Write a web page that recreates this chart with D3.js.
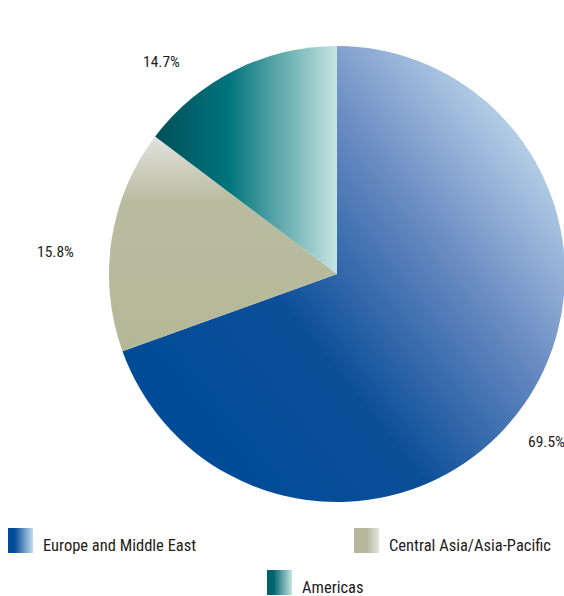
<!DOCTYPE html>
<html>
<head>
<meta charset="utf-8">
<script src="https://cdn.jsdelivr.net/npm/d3@7"></script>
<style>
  body { margin: 0; background: #fff; }
  text { font-family: "Liberation Sans Narrow", "Roboto Condensed", "Liberation Sans", sans-serif; fill: #1e1c1d; }
</style>
</head>
<body>
<div id="chart"></div>
<script>
var regions = ["Europe and Middle East", "Central Asia/Asia-Pacific", "Americas"];
var shares = [69.5, 15.8, 14.7];
var pctLabels = ["69.5%", "15.8%", "14.7%"];

var w = 564, h = 596;
var cx = 337, cy = 274, radius = 228;

var svg = d3.select("#chart").append("svg").attr("width", w).attr("height", h);
var defs = svg.append("defs");

// gradients for slices
var gEu = defs.append("linearGradient").attr("id", "g-eu")
  .attr("x1", "10%").attr("y1", "80%").attr("x2", "95%").attr("y2", "10%");
gEu.append("stop").attr("offset", "0%").attr("stop-color", "#004b97");
gEu.append("stop").attr("offset", "32%").attr("stop-color", "#0c4f99");
gEu.append("stop").attr("offset", "65%").attr("stop-color", "#6a8cc2");
gEu.append("stop").attr("offset", "100%").attr("stop-color", "#cfe5f3");

var gAs = defs.append("linearGradient").attr("id", "g-as")
  .attr("x1", "0%").attr("y1", "0%").attr("x2", "0%").attr("y2", "100%");
gAs.append("stop").attr("offset", "0%").attr("stop-color", "#e2e2de");
gAs.append("stop").attr("offset", "30%").attr("stop-color", "#b9bc9f");
gAs.append("stop").attr("offset", "100%").attr("stop-color", "#b4b898");

var gAm = defs.append("linearGradient").attr("id", "g-am")
  .attr("x1", "0%").attr("y1", "0%").attr("x2", "100%").attr("y2", "0%");
gAm.append("stop").attr("offset", "0%").attr("stop-color", "#004f58");
gAm.append("stop").attr("offset", "40%").attr("stop-color", "#00747c");
gAm.append("stop").attr("offset", "100%").attr("stop-color", "#c6e4e2");

// legend gradients (horizontal)
var lg = [["lg-eu", "#004b97", "#c2daef"], ["lg-as", "#b4b898", "#e4e4e0"], ["lg-am", "#00636b", "#c6e4e2"]];
lg.forEach(function(d){
  var g = defs.append("linearGradient").attr("id", d[0]).attr("x1", "0%").attr("x2", "100%").attr("y1", "0%").attr("y2", "0%");
  g.append("stop").attr("offset", "0%").attr("stop-color", d[1]);
  g.append("stop").attr("offset", d[0] == "lg-as" ? "50%" : "25%").attr("stop-color", d[1]);
  g.append("stop").attr("offset", "100%").attr("stop-color", d[2]);
});

var fills = ["url(#g-eu)", "url(#g-as)", "url(#g-am)"];
var legendFills = ["url(#lg-eu)", "url(#lg-as)", "url(#lg-am)"];

var data = regions.map(function(r, i){ return {region: r, share: shares[i], label: pctLabels[i], i: i}; });

var pie = d3.pie().sort(null).value(function(d){ return d.share; });
var arc = d3.arc().innerRadius(0).outerRadius(radius);

var g = svg.append("g").attr("transform", "translate(" + cx + "," + cy + ")");
g.selectAll("path")
  .data(pie(data))
  .enter()
  .append("path")
  .attr("d", arc)
  .attr("fill", function(d){ return fills[d.data.i]; });

// percentage labels, placed outside the slice
var labelPos = [[528, 447], [37, 257], [143, 67]];
svg.selectAll(".pct")
  .data(data)
  .enter()
  .append("text")
  .attr("class", "pct")
  .attr("x", function(d){ return labelPos[d.i][0]; })
  .attr("y", function(d){ return labelPos[d.i][1]; })
  .attr("font-size", 15.5)
  .text(function(d){ return d.label; });

// legend
var legendPos = [[8, 528], [354, 528], [267, 570]];
var legend = svg.selectAll(".legend")
  .data(data)
  .enter()
  .append("g")
  .attr("class", "legend")
  .attr("transform", function(d){ return "translate(" + legendPos[d.i][0] + "," + legendPos[d.i][1] + ")"; });

legend.append("rect")
  .attr("width", 25).attr("height", 25)
  .attr("fill", function(d){ return legendFills[d.i]; });

legend.append("text")
  .attr("x", 35).attr("y", 23)
  .attr("font-size", 16.5)
  .text(function(d){ return d.region; });
</script>
</body>
</html>
